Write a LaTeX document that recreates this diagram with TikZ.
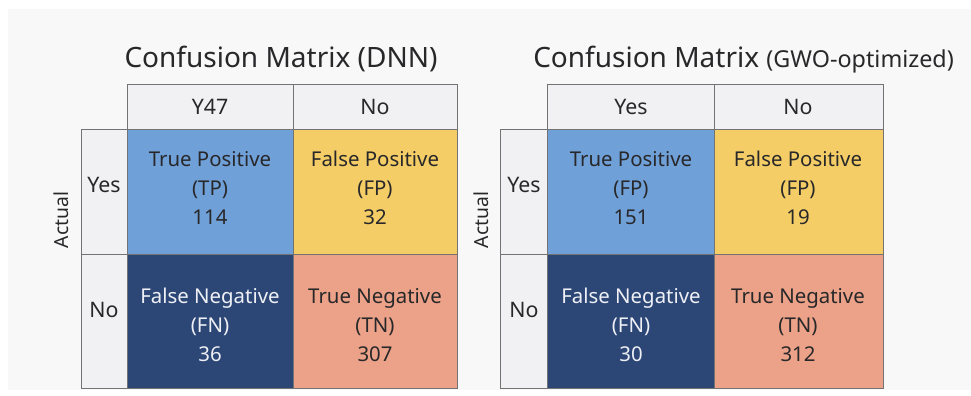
\documentclass[tikz,border=0pt]{standalone}
\usepackage{fontspec}
\setmainfont{Noto Sans}
\begin{document}
\begin{tikzpicture}[x=0.75pt,y=-0.75pt,
  grid/.style={draw=black!55,line width=0.7pt},
  hdr/.style={grid,fill=hdrgrey},
  celltxt/.style={align=center,font=\fontsize{15.3}{21.5}\selectfont,text=txtdark},
  lbl/.style={font=\fontsize{16}{19}\selectfont,text=txtdark},
  axislbl/.style={font=\fontsize{14.5}{17}\selectfont,text=txtdark,rotate=90},
  ttl/.style={font=\fontsize{21}{24}\selectfont,text=txtdark}]
\definecolor{bgpale}{RGB}{248,248,248}
\definecolor{hdrgrey}{RGB}{241,241,243}
\definecolor{txtdark}{RGB}{40,40,42}
\definecolor{tpblue}{RGB}{112,160,216}
\definecolor{fpyellow}{RGB}{244,205,102}
\definecolor{fnnavy}{RGB}{44,70,117}
\definecolor{tnsalmon}{RGB}{236,162,136}
\definecolor{fntext}{RGB}{238,240,245}
% page and backdrop
\useasboundingbox (0,0) rectangle (971,396);
\fill[white] (0,0) rectangle (971,396);
\fill[bgpale] (8,9) rectangle (971,390);

% ---------- left matrix ----------
\node[ttl,anchor=base] (t1) at (281,67) {Confusion Matrix (DNN)};
\filldraw[hdr] (127,84) rectangle (293,129);
\filldraw[hdr] (293,84) rectangle (457,129);
\filldraw[hdr] (81,129) rectangle (127,254);
\filldraw[hdr] (81,254) rectangle (127,388);
\filldraw[grid,fill=tpblue] (127,129) rectangle (293,254);
\filldraw[grid,fill=fpyellow] (293,129) rectangle (457,254);
\filldraw[grid,fill=fnnavy] (127,254) rectangle (293,388);
\filldraw[grid,fill=tnsalmon] (293,254) rectangle (457,388);
\node[lbl] (h1a) at (210,107) {Y47};
\node[lbl] (h1b) at (375,107) {No};
\node[lbl] (r1a) at (104,185) {Yes};
\node[lbl] (r1b) at (104,310) {No};
\node[axislbl] (a1) at (61,220) {Actual};
\node[celltxt] (tp1) at (210,188) {True Positive\\(TP)\\114};
\node[celltxt] (fp1) at (375,188) {False Positive\\(FP)\\32};
\node[celltxt,text=fntext] (fn1) at (210,325) {False Negative\\(FN)\\36};
\node[celltxt] (tn1) at (375,325) {True Negative\\(TN)\\307};

% ---------- right matrix ----------
\node[anchor=base west,inner sep=0pt,text=txtdark] (t2) at (533,67)
  {\fontsize{21}{24}\selectfont Confusion Matrix \fontsize{17.5}{20}\selectfont(GWO-optimized)};
\filldraw[hdr] (547,84) rectangle (714,129);
\filldraw[hdr] (714,84) rectangle (883,129);
\filldraw[hdr] (500,129) rectangle (547,254);
\filldraw[hdr] (500,254) rectangle (547,388);
\filldraw[grid,fill=tpblue] (547,129) rectangle (714,254);
\filldraw[grid,fill=fpyellow] (714,129) rectangle (883,254);
\filldraw[grid,fill=fnnavy] (547,254) rectangle (714,388);
\filldraw[grid,fill=tnsalmon] (714,254) rectangle (883,388);
\node[lbl] (h2a) at (631,107) {Yes};
\node[lbl] (h2b) at (798,107) {No};
\node[lbl] (r2a) at (524,185) {Yes};
\node[lbl] (r2b) at (524,310) {No};
\node[axislbl] (a2) at (481,220) {Actual};
\node[celltxt] (tp2) at (631,188) {True Positive\\(FP)\\151};
\node[celltxt] (fp2) at (798,188) {False Positive\\(FP)\\19};
\node[celltxt,text=fntext] (fn2) at (631,325) {False Negative\\(FN)\\30};
\node[celltxt] (tn2) at (798,325) {True Negative\\(TN)\\312};
\end{tikzpicture}
\end{document}
